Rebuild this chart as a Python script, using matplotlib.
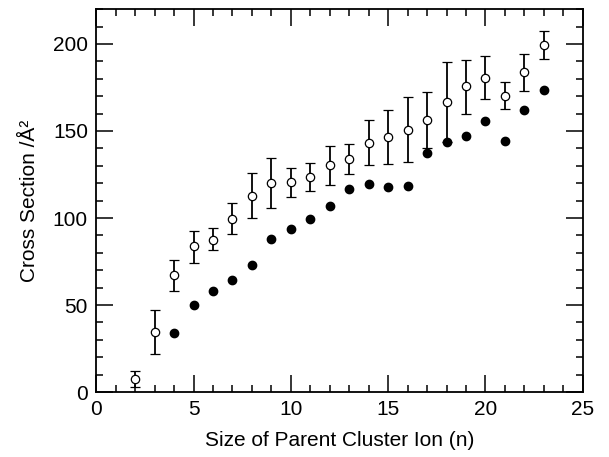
import matplotlib
matplotlib.use('Agg')
import matplotlib.pyplot as plt
from matplotlib.ticker import MultipleLocator

plt.rcParams['font.family'] = ['Liberation Sans', 'DejaVu Sans']

# 空心点：带误差棒的截面数据
n_open = [2, 3, 4, 5, 6, 7, 8, 9, 10, 11, 12, 13, 14, 15, 16, 17, 18, 19, 20, 21, 22, 23]
sigma_open = [7.5, 34.4, 67.0, 83.8, 87.6, 99.7, 112.8, 120.1, 120.6, 123.5, 130.4,
              133.7, 143.3, 146.8, 150.6, 156.2, 166.7, 175.6, 180.7, 170.2, 183.7, 199.6]
sigma_hi = [12.3, 46.9, 76.1, 92.8, 94.0, 108.5, 125.6, 134.5, 128.7, 131.6, 141.4,
            142.5, 156.4, 162.1, 169.3, 172.2, 189.5, 190.6, 193.3, 178.3, 194.4, 207.7]
sigma_lo = [2.7, 21.7, 58.0, 74.4, 81.5, 91.1, 100.1, 105.6, 112.0, 115.3, 119.1,
            125.3, 130.3, 131.2, 132.0, 140.5, 143.8, 159.8, 168.1, 162.5, 172.7, 191.5]

# 实心点
n_filled = [4, 5, 6, 7, 8, 9, 10, 11, 12, 13, 14, 15, 16, 17, 18, 19, 20, 21, 22, 23]
sigma_filled = [34.2, 50.1, 58.2, 64.6, 73.0, 88.2, 93.5, 99.5, 106.8, 116.4, 119.7,
                118.0, 118.3, 137.6, 143.7, 147.1, 155.8, 144.1, 162.1, 173.7]

err_low = [s - lo for s, lo in zip(sigma_open, sigma_lo)]
err_high = [hi - s for s, hi in zip(sigma_open, sigma_hi)]

fig = plt.figure(figsize=(6.09, 4.57), dpi=100)
ax = fig.add_axes([0.158, 0.142, 0.799, 0.838])

ax.errorbar(n_open, sigma_open, yerr=[err_low, err_high], fmt='o', mfc='white',
            mec='black', mew=0.9, ms=6, ecolor='black', elinewidth=1.3,
            capsize=3.5, capthick=1.3, zorder=3)
ax.plot(n_filled, sigma_filled, 'o', color='black', ms=6, zorder=4)

ax.set_xlim(0, 25)
ax.set_ylim(0, 220)
ax.xaxis.set_major_locator(MultipleLocator(5))
ax.xaxis.set_minor_locator(MultipleLocator(1))
ax.yaxis.set_major_locator(MultipleLocator(50))
ax.yaxis.set_minor_locator(MultipleLocator(10))
ax.tick_params(which='both', direction='in', top=True, right=True, width=1.1,
               labelsize=15)
ax.tick_params(which='major', length=12, pad=6)
ax.tick_params(which='minor', length=5)
for sp in ax.spines.values():
    sp.set_linewidth(1.3)

ax.set_xlabel('Size of Parent Cluster Ion (n)', fontsize=15, labelpad=8)
ax.set_ylabel('Cross Section /Å²', fontsize=15, labelpad=10)

fig.savefig('out.png', dpi=100)
